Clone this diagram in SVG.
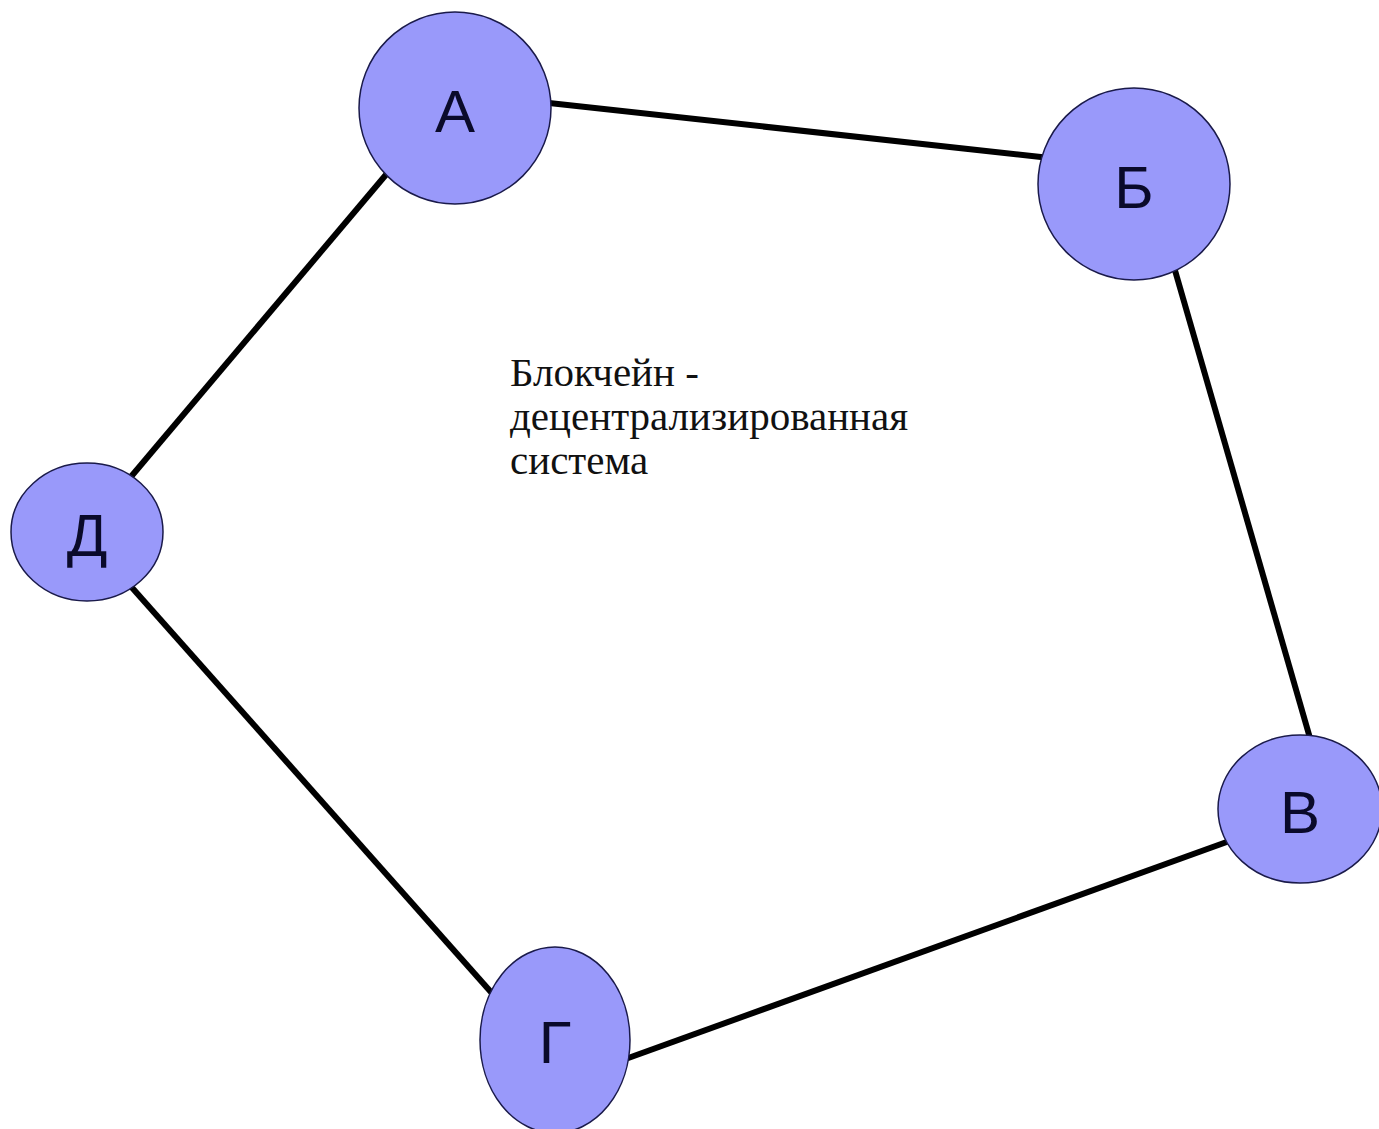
<svg xmlns="http://www.w3.org/2000/svg" width="1379" height="1129" viewBox="0 0 1379 1129">
<style>
.edge{stroke:#000;stroke-width:6;stroke-linecap:butt;fill:none}
.node{fill:#9999fa;stroke:#1a1a4a;stroke-width:1.5}
.lbl{font-family:"Liberation Sans",Arial,sans-serif;font-size:60px;fill:#0a0a2a;text-anchor:middle}
.cap{font-family:"Liberation Serif","Times New Roman",serif;font-size:41px;fill:#111}
</style>
<rect width="1379" height="1129" fill="#fff"/>
<g id="connectors">
<line class="edge" x1="540" y1="102" x2="1050" y2="158"/>
<line class="edge" x1="1172" y1="260" x2="1312" y2="745"/>
<line class="edge" x1="1235" y1="839" x2="620" y2="1061"/>
<line class="edge" x1="498" y1="1000" x2="127" y2="582"/>
<line class="edge" x1="124" y1="485" x2="395" y2="164"/>
</g>
<g id="node-A"><circle class="node" cx="455" cy="108" r="96"/><text class="lbl" x="455" y="132">А</text></g>
<g id="node-B"><circle class="node" cx="1134" cy="184" r="96"/><text class="lbl" x="1134" y="208">Б</text></g>
<g id="node-V"><ellipse class="node" cx="1300" cy="809" rx="82" ry="74"/><text class="lbl" x="1300" y="833">В</text></g>
<g id="node-G"><ellipse class="node" cx="555" cy="1040" rx="75" ry="93"/><text class="lbl" x="555" y="1063">Г</text></g>
<g id="node-D"><ellipse class="node" cx="87" cy="532" rx="76" ry="69"/><text class="lbl" x="87" y="556">Д</text></g>
<g id="caption">
<text class="cap" x="510" y="386">Блокчейн -</text>
<text class="cap" x="510" y="430">децентрализированная</text>
<text class="cap" x="510" y="474">система</text>
</g>
</svg>
